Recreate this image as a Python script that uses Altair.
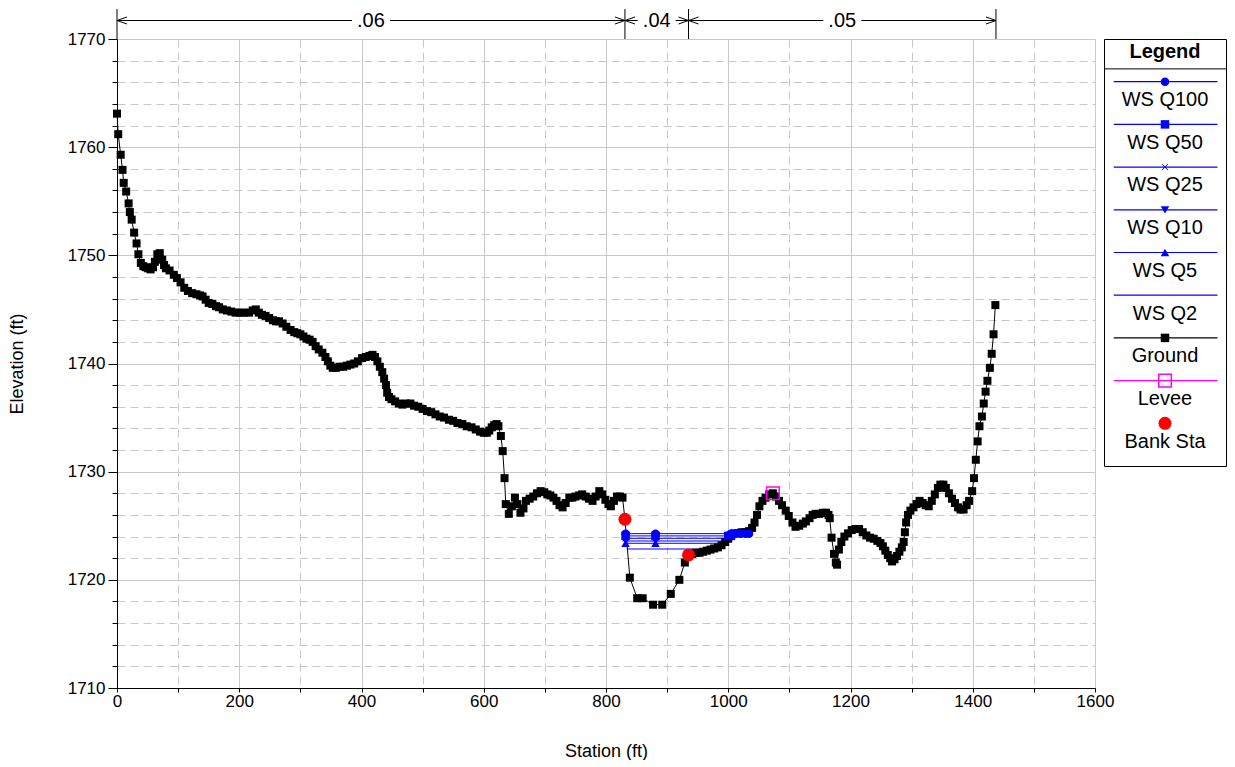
import altair as alt
import pandas as pd

# ---------------- data ----------------
ground_station = [
    0, 2, 6, 9, 11, 15, 19, 21, 24, 28, 32, 35, 39, 43, 47, 51, 55, 59, 62, 66, 70, 74, 77, 80,
    86, 93, 98, 104, 110, 116, 123, 130, 136, 140, 145, 150, 156, 162, 167, 173, 180, 187, 194,
    201, 208, 216, 222, 227, 232, 237, 243, 249, 255, 260, 265, 271, 277, 284, 290, 295, 300,
    305, 310, 315, 320, 325, 330, 336, 341, 345, 349, 353, 358, 364, 370, 376, 382, 388, 394,
    401, 407, 413, 418, 422, 426, 430, 434, 437, 440, 442, 445, 449, 455, 461, 467, 473, 480,
    486, 493, 500, 507, 514, 521, 528, 535, 543, 550, 557, 565, 572, 580, 587, 594, 600, 605,
    609, 613, 617, 621, 624, 628, 631, 634, 636, 641, 646, 651, 655, 660, 665, 669, 675, 681,
    687, 693, 699, 704, 709, 714, 719, 724, 729, 734, 740, 745, 750, 756, 761, 767, 772, 778,
    783, 789, 794, 799, 804, 808, 813, 818, 823, 827, 831, 839, 851, 860, 877, 892, 906, 920,
    929, 935, 941, 947, 953, 959, 965, 971, 977, 983, 989, 995, 1000, 1005, 1010, 1016, 1022,
    1028, 1034, 1039, 1043, 1047, 1051, 1056, 1061, 1067, 1073, 1078, 1083, 1088, 1094, 1099,
    1105, 1110, 1116, 1122, 1127, 1133, 1138, 1143, 1149, 1155, 1160, 1164, 1166, 1169, 1173,
    1176, 1178, 1181, 1185, 1190, 1196, 1202, 1208, 1214, 1220, 1226, 1232, 1238, 1244, 1249,
    1253, 1257, 1261, 1265, 1268, 1272, 1276, 1280, 1284, 1287, 1289, 1291, 1294, 1298, 1303,
    1308, 1313, 1318, 1323, 1328, 1333, 1338, 1343, 1347, 1352, 1356, 1361, 1366, 1371, 1376,
    1380, 1385, 1390, 1394, 1399, 1402, 1405, 1408, 1411, 1415, 1418, 1421, 1424, 1428, 1431,
    1434, 1437,
]
ground_elevation = [
    1763.1, 1761.2, 1759.3, 1757.9, 1756.7, 1755.9, 1754.8, 1754.0, 1753.3, 1752.1, 1751.1,
    1750.1, 1749.3, 1749.0, 1748.9, 1748.8, 1748.7, 1748.9, 1749.4, 1750.1, 1750.2, 1749.6,
    1749.1, 1748.8, 1748.6, 1748.2, 1747.9, 1747.5, 1747.0, 1746.7, 1746.5, 1746.4, 1746.3,
    1746.2, 1745.9, 1745.6, 1745.5, 1745.3, 1745.2, 1745.0, 1744.9, 1744.8, 1744.7, 1744.7,
    1744.7, 1744.7, 1744.9, 1745.0, 1744.7, 1744.5, 1744.4, 1744.2, 1744.0, 1743.9, 1743.9,
    1743.7, 1743.4, 1743.1, 1742.9, 1742.8, 1742.7, 1742.5, 1742.3, 1742.2, 1742.0, 1741.6,
    1741.3, 1741.0, 1740.6, 1740.2, 1739.8, 1739.6, 1739.6, 1739.7, 1739.7, 1739.8, 1739.9,
    1740.0, 1740.2, 1740.5, 1740.6, 1740.7, 1740.8, 1740.6, 1740.2, 1739.7, 1739.2, 1738.6,
    1738.0, 1737.3, 1736.9, 1736.7, 1736.5, 1736.3, 1736.2, 1736.3, 1736.3, 1736.1, 1736.0,
    1735.8, 1735.6, 1735.5, 1735.3, 1735.1, 1735.0, 1734.8, 1734.7, 1734.5, 1734.4, 1734.2,
    1734.1, 1733.9, 1733.7, 1733.6, 1733.6, 1733.8, 1734.1, 1734.3, 1734.4, 1734.2, 1733.3,
    1731.9, 1729.4, 1727.0, 1726.1, 1726.8, 1727.6, 1727.0, 1726.2, 1726.6, 1727.3, 1727.5,
    1727.7, 1728.0, 1728.2, 1728.1, 1727.9, 1727.8, 1727.6, 1727.3, 1726.9, 1726.7, 1727.1,
    1727.6, 1727.6, 1727.7, 1727.8, 1727.9, 1727.7, 1727.5, 1727.3, 1727.7, 1728.2, 1727.9,
    1727.4, 1727.0, 1726.8, 1727.3, 1727.7, 1727.7, 1727.6, 1725.6, 1720.2, 1718.3, 1718.3,
    1717.7, 1717.7, 1718.7, 1720.0, 1721.6, 1722.3, 1722.4, 1722.5, 1722.5, 1722.6, 1722.7,
    1722.8, 1722.9, 1723.0, 1723.2, 1723.5, 1723.8, 1724.1, 1724.3, 1724.3, 1724.4, 1724.4,
    1724.5, 1724.8, 1725.3, 1726.0, 1726.8, 1727.3, 1727.6, 1727.9, 1728.0, 1727.7, 1727.3,
    1726.9, 1726.4, 1725.9, 1725.3, 1724.9, 1725.0, 1725.2, 1725.4, 1725.7, 1726.0, 1726.1,
    1726.1, 1726.2, 1726.2, 1726.0, 1725.7, 1723.9, 1722.4, 1721.6, 1721.4, 1722.8, 1723.5,
    1724.0, 1724.3, 1724.6, 1724.7, 1724.7, 1724.4, 1724.1, 1723.9, 1723.8, 1723.6, 1723.4,
    1723.1, 1722.7, 1722.3, 1722.0, 1721.7, 1721.9, 1722.2, 1722.6, 1723.0, 1723.5, 1724.4,
    1725.3, 1726.0, 1726.4, 1726.7, 1727.0, 1727.3, 1727.1, 1726.9, 1726.8, 1727.3, 1727.9,
    1728.5, 1728.8, 1728.8, 1728.5, 1728.0, 1727.5, 1727.1, 1726.7, 1726.5, 1726.5, 1726.9,
    1727.3, 1728.2, 1729.4, 1731.1, 1732.8, 1734.2, 1735.1, 1736.3, 1737.4, 1738.4, 1739.6,
    1740.9, 1742.7, 1745.4,
]
assert len(ground_station) == len(ground_elevation)

bank_station = [831, 935]
bank_elevation = [1725.6, 1722.3]

levee_station = [1073]
levee_elevation = [1728.0]

ws_profiles = ["WS Q100", "WS Q50", "WS Q25", "WS Q10", "WS Q5", "WS Q2"]
ws_elevation = [1724.27, 1724.06, 1723.84, 1723.59, 1723.38, 1722.85]
ws_left = [832, 832, 832, 832, 832, 834]
ws_right = [1034, 1004, 1000, 996, 991, 969]
ws_marker_stations = [
    [832, 881, 1004, 1012, 1020, 1028, 1034],
    [832, 881, 1000, 1004],
    [832, 881],
    [832, 881],
    [832, 881],
    [],
]
ws_marker_shapes = ["circle", "square", "x", "triangle-down", "triangle-up", "none"]

n_values = [".06", ".04", ".05"]
n_start = [0, 831, 935]
n_end = [831, 935, 1438]

legend_names = ["WS Q100", "WS Q50", "WS Q25", "WS Q10", "WS Q5", "WS Q2",
                "Ground", "Levee", "Bank Sta"]
legend_line_colors = ["#0000FF"] * 6 + ["#000000", "#FF00FF", ""]
legend_marker_shapes = ["circle", "square", "x", "triangle-down", "triangle-up", "",
                        "square", "open-square", "bank"]

# ---------------- styling ----------------
FONT = "Liberation Sans"
BLUE = "#0000FF"
GRID = "#c8c8c8"
TICK_FS = 17
TITLE_FS = 18
BIG_FS = 20

X_DOMAIN = [0, 1600]
Y_DOMAIN = [1710, 1770]
ANNOT_TOP = 1772.77
ARROW_Y = 1771.71

xscale = alt.Scale(domain=X_DOMAIN, nice=False, zero=False)
yscale = alt.Scale(domain=Y_DOMAIN, nice=False, zero=False)

xaxis = alt.Axis(
    values=list(range(0, 1601, 100)),
    format="d",
    labelExpr="datum.value % 200 === 0 ? datum.label : ''",
    grid=True,
    gridColor=GRID,
    gridWidth=1,
    gridDash={"condition": {"test": "datum.value % 200 === 0", "value": []}, "value": [8, 5]},
    tickSize=4,
    tickColor="black",
    domainColor="black",
    labelColor="black",
    labelFont=FONT,
    labelFontSize=TICK_FS,
    labelPadding=1,
    labelFlush=False,
    title="Station (ft)",
    titleFont=FONT,
    titleFontSize=TITLE_FS,
    titleFontWeight="normal",
    titleColor="black",
    titlePadding=33,
)
yaxis = alt.Axis(
    values=list(range(1710, 1771, 2)),
    format="d",
    labelExpr="datum.value % 10 === 0 ? datum.label : ''",
    grid=True,
    gridColor=GRID,
    gridWidth=1,
    gridDash={"condition": {"test": "datum.value % 10 === 0", "value": []}, "value": [8, 5]},
    tickSize={"condition": {"test": "datum.value % 10 === 0", "value": 9}, "value": 5},
    tickColor="black",
    domainColor="black",
    labelColor="black",
    labelFont=FONT,
    labelFontSize=TICK_FS,
    labelPadding=3,
    labelFlush=False,
    title="Elevation (ft)",
    titleFont=FONT,
    titleFontSize=TITLE_FS,
    titleFontWeight="normal",
    titleColor="black",
    titlePadding=41,
)


def X(field):
    return alt.X(f"{field}:Q", scale=xscale, axis=xaxis, title="Station (ft)")


def Y(field):
    return alt.Y(f"{field}:Q", scale=yscale, axis=yaxis, title="Elevation (ft)")


# ---------------- tables ----------------
ground_df = pd.DataFrame({"station": ground_station, "elev": ground_elevation})
bank_df = pd.DataFrame({"station": bank_station, "elev": bank_elevation})
levee_df = pd.DataFrame({"station": levee_station, "elev": levee_elevation})

ws_line_rows = []
ws_mark_rows = []
for p, e, l, r, ms, sh in zip(ws_profiles, ws_elevation, ws_left, ws_right,
                              ws_marker_stations, ws_marker_shapes):
    ws_line_rows += [{"profile": p, "station": l, "elev": e},
                     {"profile": p, "station": r, "elev": e}]
    for s in ms:
        ws_mark_rows.append({"profile": p, "station": s, "elev": e, "shape": sh})
ws_line_df = pd.DataFrame(ws_line_rows)
ws_mark_df = pd.DataFrame(ws_mark_rows)
ws_fill_df = ws_mark_df[ws_mark_df["shape"] != "x"]
ws_x_df = ws_mark_df[ws_mark_df["shape"] == "x"]

n_df = pd.DataFrame({"label": n_values, "start": n_start, "end": n_end})
n_df["mid"] = (n_df["start"] + n_df["end"]) / 2
n_df["gap0"] = n_df["mid"] - 31
n_df["gap1"] = n_df["mid"] + 31
n_df["y"] = ARROW_Y
n_df["ylo"] = ARROW_Y - 0.5
n_df["yhi"] = ARROW_Y + 0.5
vbar_df = pd.DataFrame({"station": sorted(set(n_start + n_end))})
vbar_df["y0"] = Y_DOMAIN[1]
vbar_df["y1"] = ANNOT_TOP

# ---------------- main plot ----------------
base_ground = alt.Chart(ground_df)
ground_line = base_ground.mark_line(color="black", strokeWidth=1).encode(
    x=X("station"), y=Y("elev"), order="station:Q")
ground_pts = base_ground.mark_point(shape="square", filled=True, color="black",
                                    size=64, opacity=1).encode(x=X("station"), y=Y("elev"))

ws_lines = alt.Chart(ws_line_df).mark_line(color=BLUE, strokeWidth=1).encode(
    x=X("station"), y=Y("elev"), detail="profile:N")
ws_pts = alt.Chart(ws_fill_df).mark_point(filled=True, color=BLUE, opacity=1).encode(
    x=X("station"), y=Y("elev"),
    shape=alt.Shape("shape:N", scale=None, legend=None),
    size=alt.value(72))
ws_x = alt.Chart(ws_x_df).mark_point(shape="M-1,-1L1,1M-1,1L1,-1", filled=False,
                                     color=BLUE, strokeWidth=1, size=36, opacity=1).encode(
    x=X("station"), y=Y("elev"))

levee = alt.Chart(levee_df).mark_point(shape="square", filled=False, color="#FF00FF",
                                       strokeWidth=1.5, size=160, opacity=1).encode(
    x=X("station"), y=Y("elev"))
bank = alt.Chart(bank_df).mark_point(shape="circle", filled=True, color="#FF0000",
                                     size=169, opacity=1).encode(x=X("station"), y=Y("elev"))

vbars = alt.Chart(vbar_df).mark_rule(color="black", strokeWidth=1, clip=False).encode(
    x=X("station"), y=Y("y0"), y2="y1:Q")
nbase = alt.Chart(n_df)
harrows = nbase.mark_rule(color="black", strokeWidth=1, clip=False).encode(
    x=X("start"), x2="end:Q", y=Y("y"))
gaps = nbase.mark_rect(color="white", clip=False).encode(
    x=X("gap0"), x2="gap1:Q", y=Y("ylo"), y2="yhi:Q")
ntext = nbase.mark_text(font=FONT, fontSize=BIG_FS, color="black", align="center",
                        baseline="middle", clip=False).encode(
    x=X("mid"), y=Y("y"), text="label:N")
head_left = nbase.mark_point(shape="M0,0L4,-1.4M0,0L4,1.4", filled=False, color="black",
                             strokeWidth=1, size=25, opacity=1, clip=False).encode(
    x=X("start"), y=Y("y"))
head_right = nbase.mark_point(shape="M0,0L-4,-1.4M0,0L-4,1.4", filled=False, color="black",
                              strokeWidth=1, size=25, opacity=1, clip=False).encode(
    x=X("end"), y=Y("y"))

main = alt.layer(
    ground_line, ws_lines, ground_pts, ws_pts, ws_x, levee, bank,
    vbars, harrows, gaps, ntext, head_left, head_right,
).properties(width=978, height=649)

# ---------------- legend panel ----------------
N_ROWS = 10
lg_rows = []
for i, (nm, lc, ms) in enumerate(zip(legend_names, legend_line_colors, legend_marker_shapes)):
    lg_rows.append({"name": nm, "color": lc, "marker": ms,
                    "line_y": i + 1.0, "text_y": i + 1.43})
lg_df = pd.DataFrame(lg_rows)
lg_df["x0"] = 0.08
lg_df["x1"] = 0.93
lg_df["xm"] = 0.5

lx = alt.Scale(domain=[0, 1], nice=False, zero=False)
ly = alt.Scale(domain=[0, N_ROWS], nice=False, zero=False, reverse=True)

lgb = alt.Chart(lg_df)
lg_lines = lgb.transform_filter("datum.color != ''").mark_rule(strokeWidth=1.2).encode(
    x=alt.X("x0:Q", scale=lx, axis=None), x2="x1:Q",
    y=alt.Y("line_y:Q", scale=ly, axis=None),
    color=alt.Color("color:N", scale=None, legend=None))
lg_fill = lgb.transform_filter(
    "indexof(['circle','square','triangle-down','triangle-up'], datum.marker) >= 0"
).mark_point(filled=True, opacity=1, size=72).encode(
    x=alt.X("xm:Q", scale=lx, axis=None), y=alt.Y("line_y:Q", scale=ly, axis=None),
    shape=alt.Shape("marker:N", scale=None, legend=None),
    color=alt.Color("color:N", scale=None, legend=None))
lg_x = lgb.transform_filter("datum.marker == 'x'").mark_point(
    shape="M-1,-1L1,1M-1,1L1,-1", filled=False, color=BLUE, strokeWidth=1, size=36,
    opacity=1).encode(
    x=alt.X("xm:Q", scale=lx, axis=None), y=alt.Y("line_y:Q", scale=ly, axis=None))
lg_levee = lgb.transform_filter("datum.marker == 'open-square'").mark_point(
    shape="square", filled=False, color="#FF00FF", strokeWidth=1.5, size=160,
    opacity=1).encode(
    x=alt.X("xm:Q", scale=lx, axis=None), y=alt.Y("line_y:Q", scale=ly, axis=None))
lg_bank = lgb.transform_filter("datum.marker == 'bank'").mark_point(
    shape="circle", filled=True, color="#FF0000", size=169, opacity=1).encode(
    x=alt.X("xm:Q", scale=lx, axis=None), y=alt.Y("line_y:Q", scale=ly, axis=None))
lg_text = lgb.mark_text(font=FONT, fontSize=BIG_FS, color="black", align="center",
                        baseline="middle").encode(
    x=alt.X("xm:Q", scale=lx, axis=None), y=alt.Y("text_y:Q", scale=ly, axis=None),
    text="name:N")

hdr_df = pd.DataFrame({"title": ["Legend"], "xm": [0.5], "ty": [0.31],
                       "sy": [0.70], "s0": [0.0], "s1": [1.0]})
hdr = alt.Chart(hdr_df)
lg_title = hdr.mark_text(font=FONT, fontSize=BIG_FS, fontWeight="bold", color="black",
                         align="center", baseline="middle").encode(
    x=alt.X("xm:Q", scale=lx, axis=None), y=alt.Y("ty:Q", scale=ly, axis=None),
    text="title:N")
lg_sep = hdr.mark_rule(color="black", strokeWidth=1).encode(
    x=alt.X("s0:Q", scale=lx, axis=None), x2="s1:Q",
    y=alt.Y("sy:Q", scale=ly, axis=None))

legend_panel = alt.layer(
    lg_sep, lg_lines, lg_fill, lg_x, lg_levee, lg_bank, lg_text, lg_title
).properties(width=122, height=427,
             view=alt.ViewBackground(stroke="black", strokeWidth=1, strokeOpacity=1,
                                     fill="white"))

chart = alt.hconcat(main, legend_panel, spacing=9, bounds="flush").properties(
    padding={"left": 0, "top": 0, "right": 0, "bottom": 0},
    background="white",
).configure_view(strokeOpacity=0).resolve_scale(
    x="independent", y="independent", shape="independent", color="independent")

chart.save("out.html", embed_options={"renderer": "svg", "actions": False})
